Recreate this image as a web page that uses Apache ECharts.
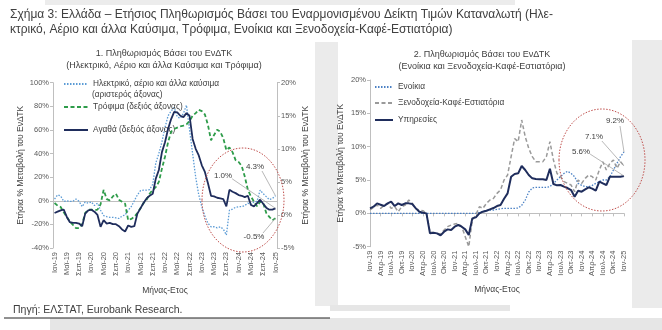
<!DOCTYPE html>
<html><head><meta charset="utf-8">
<script src="https://cdn.jsdelivr.net/npm/echarts@6/dist/echarts.min.js"></script>
<style>html,body{margin:0;padding:0;background:#fff}#c{width:662px;height:330px}</style>
</head><body><div id="c"></div>
<script>
// ---- tick labels ----
const monthNames = ['Ιαν','Φεβ','Μαρ','Απρ','Μαϊ','Ιουν','Ιουλ','Αυγ','Σεπ','Οκτ','Νοε','Δεκ'];
const years = ['19','20','21','22','23','24','25'];
const categories = [];
years.forEach(y => monthNames.forEach(m => categories.push(m + '-' + y)));
categories.length = 73; // Ιαν-19 ... Ιαν-25

// ---- panel 1 (left: energy on left axis, food & goods on right axis) ----
const energy = [1.5,5,4,-0.5,0,-0.5,-0.5,1.5,-0.5,-5,-1,-2,
  -1,-4,-2,-8,-12.5,-13.5,-14,-14,-14.5,-15,-13,-12,
  -8,-5,0,5,8.5,9,9,9.5,14,32,40,50,
  62,72,76,79,71,70,74,81,60,40,20,5,
  -5,-13,-19,-22,-22,-23,-22,-24,-29,-8,-7,-5.5,
  -5,-5,-4,-2,-3,-1,-0.5,9,6,3.5,1,2,
  4.3];
const food = [1.8,1.4,1.2,0.4,-0.3,-1.0,-1.5,-2.0,-2.0,-1.4,0.3,0.8,
  0.8,0.7,0.8,1.6,3.8,2.4,2.2,2.8,3.2,2.3,2.0,1.7,
  -0.8,-0.6,-0.3,0.3,1.0,1.8,2.3,3.2,3.8,4.2,5.0,7.0,
  8.8,11.0,12.6,13.0,13.2,13.4,13.5,13.7,14.2,15.0,15.4,15.9,
  15.7,15.2,13.6,11.3,12.1,12.9,12.6,11.6,9.8,10.2,9.5,8.3,
  8.0,7.4,5.8,3.8,2.8,2.0,1.3,2.0,1.8,0.3,-0.3,-0.8,
  -0.5];
const goods = [0.3,0.5,0.7,0.8,-0.3,-1.1,-1.2,-1.2,-1.3,-1.7,0.2,0.7,
  0.8,0.5,0,-1.8,-0.8,-1.3,-1.2,-1.4,-1.4,-1.7,-2.2,-2.5,
  -1.6,-1.8,-1.7,0.2,1.0,1.8,2.5,2.9,3.2,5.5,6.8,9.5,
  11.0,13.0,14.5,15.6,15.5,15.0,14.8,15.4,15.0,11.5,10.0,9.0,
  7.5,6.5,4.8,2.9,2.8,2.6,2.5,2.4,1.3,3.8,3.5,3.3,
  3.0,2.9,2.7,2.9,1.5,1.3,1.8,2.3,1.7,1.1,0.8,0.8,
  1.0];

// ---- panel 2 (right) ----
const rent = [0,0,0,0,0,0,0,0,0,0,0,0,
  0,0,0,0,0,0,0,0,0,0,0,0,
  0,0,0,0,0,0,0,0.1,0.3,0.4,0.5,0.5,
  0.6,0.7,0.75,0.75,0.75,0.75,0.8,1.2,2.0,3.2,3.8,3.9,
  3.9,3.9,3.9,4.0,4.5,5.0,5.5,6.0,6.3,6.0,5.5,4.5,
  4.2,4.0,4.0,4.2,4.5,4.75,5.0,5.0,5.5,6.5,7.5,8.5,
  9.2];
const hotels = [0.5,0.9,1.25,0.75,1.2,1.5,0.75,1.0,0.25,1.0,1.25,2.0,
  1.5,0.7,0.5,0.4,0,-2.75,-2.9,-3.0,-3.1,-2.5,-2.0,-1.75,
  -1.6,-1.5,-2.0,-3.5,-5.0,-1.0,-0.25,1.0,0.75,1.5,2.0,2.25,
  3.0,3.5,5.0,5.75,8.5,11.2,10.75,14.0,11.5,9.75,8.5,7.75,
  7.75,7.75,8.5,10.75,8.0,6.0,5.5,4.75,4.5,4.25,3.25,5.0,
  4.5,5.25,5.75,5.5,5.0,6.5,7.75,6.5,7.5,8.0,6.75,7.75,
  7.1];
const services = [0.75,1.0,1.5,1.3,1.1,1.5,1.75,1.1,1.5,1.25,1.5,1.5,
  1.4,0.75,0.25,0.1,0,-3.0,-2.9,-3.0,-3.3,-2.75,-2.4,-2.5,
  -2.0,-1.75,-2.0,-2.4,-3.25,-0.75,-0.6,0,0.25,0.4,0.6,0.8,
  1.1,1.25,2.2,3.0,5.5,5.9,6.0,7.1,6.5,5.75,5.25,5.15,
  5.1,5.1,5.0,6.7,4.4,4.2,4.25,4.0,3.8,3.5,2.5,3.4,
  3.25,3.6,3.9,3.7,3.4,4.75,4.5,4.25,5.5,5.5,5.5,5.5,
  5.6];

const names = {
  energy: 'Ηλεκτρικό, αέριο και άλλα καύσιμα',
  food: 'Τρόφιμα (δεξιός άξονας)',
  goods: 'Αγαθά (δεξιός άξονας)',
  rent: 'Ενοίκια',
  hotels: 'Ξενοδοχεία-Καφέ-Εστιατόρια',
  services: 'Υπηρεσίες'
};

const FONT = 'Liberation Sans';
const TXT = '#404040';
const AX = '#bfbfbf';
const LBL = '#595959';
const C_EN = '#5b9bd5', C_FOOD = '#2e9c4a', C_NAVY = '#1f2d5c', C_GRAY = '#9a9a9a', C_RENT = '#4a80c4';

const chart = echarts.init(document.getElementById('c'), null, {renderer: 'canvas'});

function yAx(grid, min, max, interval, pos, withName, nameGap) {
  return {
    type: 'value', gridIndex: grid, min: min, max: max, interval: interval, position: pos,
    axisLine: {show: true, lineStyle: {color: AX, width: 1}},
    axisTick: {show: true, length: 3, lineStyle: {color: AX}},
    splitLine: {show: false},
    axisLabel: {formatter: '{value}%', fontSize: 7.5, color: LBL, fontFamily: FONT, margin: 4},
    name: withName ? 'Ετήσια % Μεταβολή του ΕνΔΤΚ' : '',
    nameLocation: 'middle', nameGap: nameGap,
    nameTextStyle: {fontSize: 8.5, color: TXT, fontFamily: FONT}
  };
}
function xLab(grid, bgap, interval, nameGap) {
  return {
    type: 'category', gridIndex: grid, data: categories, boundaryGap: bgap,
    axisLine: {show: false, onZero: false}, axisTick: {show: false},
    axisLabel: {interval: interval, rotate: 90, fontSize: 7.5, color: LBL, fontFamily: FONT, margin: 4},
    name: 'Μήνας-Ετος', nameLocation: 'middle', nameGap: nameGap,
    nameTextStyle: {fontSize: 8.5, color: TXT, fontFamily: FONT}
  };
}
function xZero(grid, bgap, yIdx, tick) {
  return {
    type: 'category', gridIndex: grid, data: categories, boundaryGap: bgap, position: 'bottom',
    axisLine: {show: true, onZero: true, onZeroAxisIndex: yIdx, lineStyle: {color: AX, width: 1}},
    axisTick: {show: tick, interval: 2, length: 3, lineStyle: {color: AX}},
    axisLabel: {show: false}, splitLine: {show: false}
  };
}
function leg(name, left, top, w) {
  return {
    data: [name], left: left, top: top, orient: 'vertical', itemWidth: w, itemHeight: 8,
    selectedMode: false, padding: 0,
    itemStyle: {opacity: 0},
    textStyle: {fontSize: 8.3, color: TXT, fontFamily: FONT, lineHeight: 10}
  };
}
function line(name, data, xi, yi, color, type, width, z) {
  return {
    name: name, type: 'line', data: data, xAxisIndex: xi, yAxisIndex: yi,
    symbol: 'none', smooth: false, z: z,
    lineStyle: {color: color, type: type, width: width}, itemStyle: {color: color}
  };
}

const baseGraphic = [
  {type: 'rect', id: 'bgTop', z: -10, shape: {x: 45, y: 0, width: 470, height: 5}, style: {fill: '#ececec'}},
  {type: 'rect', id: 'bgMid', z: -10, shape: {x: 315, y: 42, width: 23, height: 264}, style: {fill: '#ebebeb'}},
  {type: 'rect', id: 'bgRight', z: -10, shape: {x: 632, y: 40, width: 30, height: 268}, style: {fill: '#ebebeb'}},
  {type: 'rect', id: 'bgBot', z: -10, shape: {x: 50, y: 318, width: 612, height: 12}, style: {fill: '#e6e6e6'}},
  {type: 'rect', id: 'bgBot2', z: -10, shape: {x: 330, y: 305, width: 180, height: 6}, style: {fill: '#e6e6e6'}},
  {type: 'line', id: 'botLine', shape: {x1: 4, y1: 318, x2: 330, y2: 318}, style: {stroke: '#222', lineWidth: 1}},
  {type: 'text', id: 't1', left: 10, top: 9, style: {text: 'Σχήμα 3: Ελλάδα – Ετήσιος Πληθωρισμός Βάσει του Εναρμονισμένου Δείκτη Τιμών Καταναλωτή (Ηλε-', font: '12px ' + FONT, fill: TXT}},
  {type: 'text', id: 't2', left: 10, top: 24, style: {text: 'κτρικό, Αέριο και άλλα Καύσιμα, Τρόφιμα, Ενοίκια και Ξενοδοχεία-Καφέ-Εστιατόρια)', font: '12px ' + FONT, fill: TXT}},
  {type: 'text', id: 's1a', x: 164, y: 54, style: {text: '1. Πληθωρισμός Βάσει του ΕνΔΤΚ', font: '9px ' + FONT, fill: TXT, align: 'center', verticalAlign: 'middle'}},
  {type: 'text', id: 's1b', x: 164, y: 66, style: {text: '(Ηλεκτρικό, Αέριο και άλλα Καύσιμα και Τρόφιμα)', font: '9px ' + FONT, fill: TXT, align: 'center', verticalAlign: 'middle'}},
  {type: 'text', id: 's2a', x: 482, y: 55, style: {text: '2. Πληθωρισμός Βάσει του ΕνΔΤΚ', font: '9px ' + FONT, fill: TXT, align: 'center', verticalAlign: 'middle'}},
  {type: 'text', id: 's2b', x: 482, y: 67, style: {text: '(Ενοίκια και Ξενοδοχεία-Καφέ-Εστιατόρια)', font: '9px ' + FONT, fill: TXT, align: 'center', verticalAlign: 'middle'}},
  {type: 'text', id: 'legSub', x: 92, y: 95, style: {text: '(αριστερός άξονας)', font: '8.3px ' + FONT, fill: TXT, verticalAlign: 'middle'}},
  {type: 'text', id: 'src', x: 13, y: 310, style: {text: 'Πηγή: ΕΛΣΤΑΤ, Eurobank Research.', font: '10.5px ' + FONT, fill: TXT, verticalAlign: 'middle'}},
  {type: 'ellipse', id: 'e1', z: 50, shape: {cx: 243, cy: 200, rx: 41, ry: 52}, style: {fill: 'none', stroke: '#c0504d', lineWidth: 1, lineDash: [1.5, 1.5]}},
  {type: 'ellipse', id: 'e2', z: 50, shape: {cx: 602, cy: 160, rx: 43, ry: 51}, style: {fill: 'none', stroke: '#c0504d', lineWidth: 1, lineDash: [1.5, 1.5]}}
];

const option = {
  animation: false,
  backgroundColor: '#ffffff',
  textStyle: {fontFamily: FONT},
  grid: [
    {left: 53, top: 82.7, width: 224, height: 165.3, containLabel: false},
    {left: 370, top: 80, width: 254, height: 166.7, containLabel: false}
  ],
  xAxis: [
    xLab(0, true, 3, 38),
    xZero(0, true, 0, false),
    xLab(1, false, 2, 38),
    xZero(1, false, 2, true)
  ],
  yAxis: [
    yAx(0, -40, 100, 20, 'left', true, 28),
    yAx(0, -5, 20, 5, 'right', true, 24),
    yAx(1, -5, 20, 5, 'left', true, 25)
  ],
  legend: [
    leg(names.energy, 63, 79, 24),
    leg(names.food, 63, 102, 24),
    leg(names.goods, 63, 125, 24),
    leg(names.rent, 374, 82, 18),
    leg(names.hotels, 374, 98, 18),
    leg(names.services, 374, 115, 18)
  ],
  series: [
    line(names.energy, energy, 0, 0, C_EN, [1.5, 1.5], 1.3, 3),
    line(names.food, food, 0, 1, C_FOOD, [4, 2.5], 1.8, 4),
    line(names.goods, goods, 0, 1, C_NAVY, 'solid', 1.8, 5),
    line(names.rent, rent, 2, 2, C_RENT, [1.5, 1.5], 1.3, 3),
    line(names.hotels, hotels, 2, 2, C_GRAY, [4, 2.5], 1.5, 4),
    line(names.services, services, 2, 2, C_NAVY, 'solid', 2, 5)
  ],
  graphic: baseGraphic
};
chart.setOption(option);

// annotation labels with leader lines to the last data points (positions via the library's scales)
const last = categories.length - 1;
const pE = chart.convertToPixel({xAxisIndex: 0, yAxisIndex: 0}, [last, energy[last]]);
const pF = chart.convertToPixel({xAxisIndex: 0, yAxisIndex: 1}, [last, food[last]]);
const pG = chart.convertToPixel({xAxisIndex: 0, yAxisIndex: 1}, [last, goods[last]]);
const pR = chart.convertToPixel({xAxisIndex: 2, yAxisIndex: 2}, [last, rent[last]]);
const pH = chart.convertToPixel({xAxisIndex: 2, yAxisIndex: 2}, [last, hotels[last]]);
const pS = chart.convertToPixel({xAxisIndex: 2, yAxisIndex: 2}, [last, services[last]]);
const fmt = v => (Math.round(v * 10) / 10).toFixed(1) + '%';
const ann = [
  {id: 'aE', text: fmt(energy[last]), x: 255, y: 167, from: [262, 171], to: pE},
  {id: 'aG', text: fmt(goods[last]), x: 223, y: 176, from: [231, 178], to: pG},
  {id: 'aF', text: fmt(food[last]), x: 254, y: 237, from: [263, 233], to: pF},
  {id: 'aR', text: fmt(rent[last]), x: 615, y: 121, from: [620, 126], to: pR},
  {id: 'aH', text: fmt(hotels[last]), x: 594, y: 137, from: [601, 140], to: pH},
  {id: 'aS', text: fmt(services[last]), x: 581, y: 152, from: [590, 154], to: pS}
];
const annGraphic = [];
ann.forEach(a => {
  annGraphic.push({type: 'line', id: a.id + 'L', z: 60, shape: {x1: a.from[0], y1: a.from[1], x2: a.to[0], y2: a.to[1]}, style: {stroke: '#a6a6a6', lineWidth: 0.8}});
  annGraphic.push({type: 'text', id: a.id + 'T', z: 61, x: a.x, y: a.y, style: {text: a.text, font: '8px ' + FONT, fill: TXT, align: 'center', verticalAlign: 'middle', backgroundColor: '#fff'}});
});
chart.setOption({graphic: baseGraphic.concat(annGraphic)});
</script>
</body></html>
